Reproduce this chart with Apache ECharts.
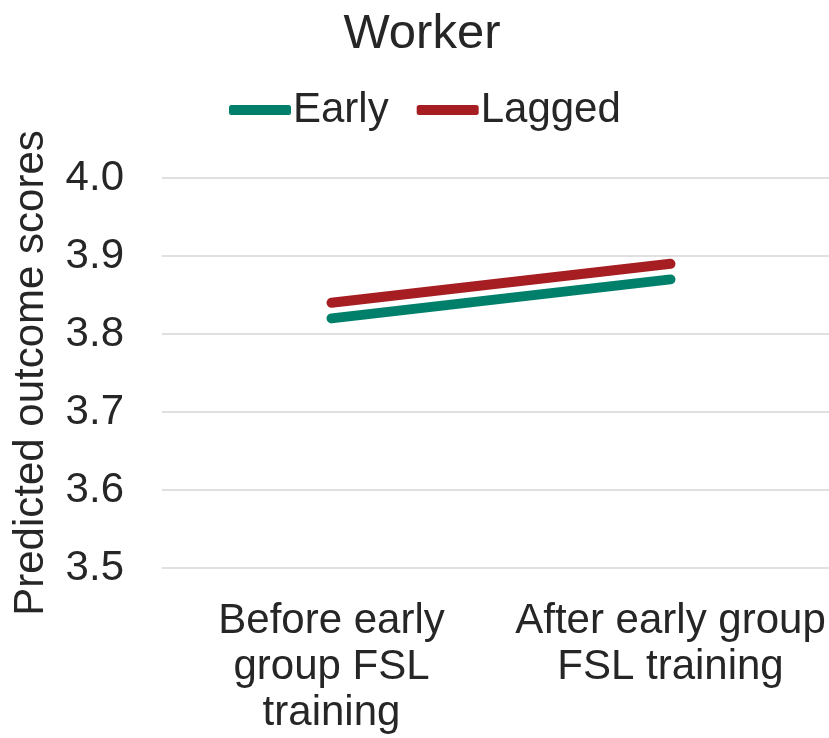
<!DOCTYPE html>
<html>
<head>
<meta charset="utf-8">
<script src="https://cdn.jsdelivr.net/npm/echarts@6/dist/echarts.min.js"></script>
<style>
html,body{margin:0;padding:0;background:#fff;}
#chart{width:829px;height:738px;}
</style>
</head>
<body>
<div id="chart"></div>
<script>
const categories = ["Before early\ngroup FSL\ntraining", "After early group\nFSL training"];
const earlyValues = [3.82, 3.87];
const laggedValues = [3.84, 3.89];
const seriesNames = ["Early", "Lagged"];
const titleText = "Worker";
const yAxisName = "Predicted outcome scores";

const FONT = "'Liberation Sans', Arial, sans-serif";
const TXT = "#262626";
const chart = echarts.init(document.getElementById('chart'), null, {renderer: 'canvas'});
chart.setOption({
  backgroundColor: '#ffffff',
  animation: false,
  title: {
    text: titleText,
    left: 422, top: 10, padding: 0,
    textAlign: 'center',
    textStyle: {fontFamily: FONT, fontSize: 49, fontWeight: 'normal', color: TXT}
  },
  legend: {
    left: 229, top: 89, padding: 0,
    itemWidth: 62, itemHeight: 10,
    itemGap: 28,
    icon: 'roundRect',
    data: seriesNames,
    textStyle: {fontFamily: FONT, fontSize: 42, color: TXT, padding: [0,0,0,-3]}
  },
  grid: {left: 162, top: 178, width: 678, height: 390, containLabel: false, outerBoundsMode: 'none'},
  xAxis: {
    type: 'category',
    data: categories,
    boundaryGap: true,
    axisLine: {show: false},
    axisTick: {show: false},
    axisLabel: {fontFamily: FONT, fontSize: 42, color: TXT, lineHeight: 46, margin: 30, interval: 0}
  },
  yAxis: {
    type: 'value',
    min: 3.5, max: 4.0, interval: 0.1,
    name: yAxisName,
    nameLocation: 'middle',
    nameRotate: 90,
    nameGap: 110,
    nameTextStyle: {fontFamily: FONT, fontSize: 42, color: TXT},
    axisLine: {show: false},
    axisTick: {show: false},
    splitLine: {lineStyle: {color: '#e0e0e0', width: 2}},
    axisLabel: {fontFamily: FONT, fontSize: 42, color: TXT, margin: 38, formatter: v => v.toFixed(1)}
  },
  series: [
    {name: seriesNames[0], type: 'line', data: earlyValues, symbol: 'none', color: '#00806A',
     lineStyle: {width: 10, cap: 'round', color: '#00806A'}},
    {name: seriesNames[1], type: 'line', data: laggedValues, symbol: 'none', color: '#A61E22',
     lineStyle: {width: 10, cap: 'round', color: '#A61E22'}}
  ]
});
</script>
</body>
</html>
